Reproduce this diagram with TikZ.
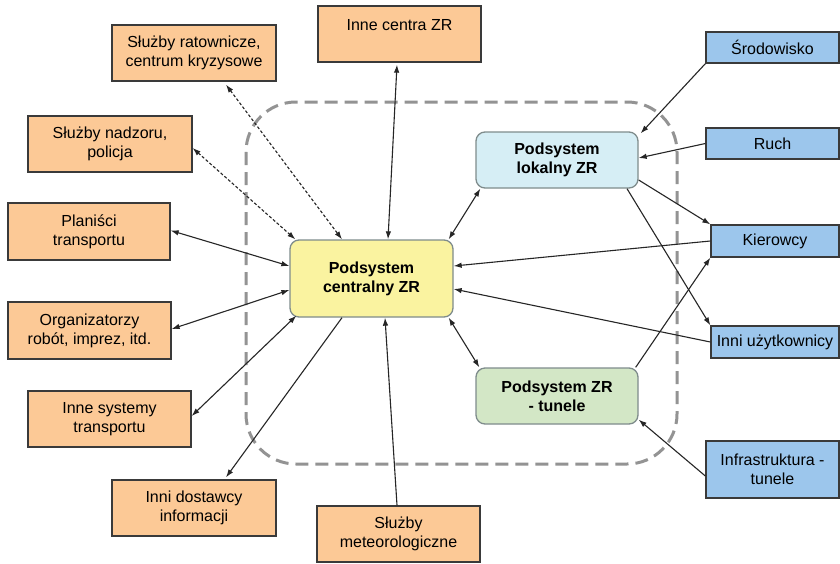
\documentclass[tikz,border=0pt]{standalone}
\usepackage{fontspec}
\setmainfont{Liberation Sans}
\usetikzlibrary{arrows.meta}
\definecolor{orangefill}{HTML}{FCC996}
\definecolor{bluefill}{HTML}{9CC6EC}
\definecolor{yellowfill}{HTML}{FAF3A0}
\definecolor{cyanfill}{HTML}{D6EEF5}
\definecolor{greenfill}{HTML}{D3E7C6}
\definecolor{boxline}{HTML}{3A3A3A}
\definecolor{roundline}{HTML}{7F8C8C}
\definecolor{dashgrey}{HTML}{939393}
\begin{document}
\begin{tikzpicture}[x=1pt,y=-1pt,
  every node/.style={font=\fontsize{16}{19}\selectfont, align=center, inner sep=1pt},
  extbox/.style={draw=boxline, line width=1.3pt, fill=orangefill, minimum width=163pt, minimum height=56pt},
  envbox/.style={draw=boxline, line width=1.3pt, fill=bluefill, minimum width=133pt, minimum height=31pt},
  subbox/.style={draw=roundline, line width=1.3pt, rounded corners=9pt, minimum width=162pt, minimum height=56pt, font=\fontsize{16}{19}\selectfont\bfseries},
  link/.style={line width=1.1pt, draw=black!85, {Latex[length=8pt,width=5.5pt]}-{Latex[length=8pt,width=5.5pt]}},
  onelink/.style={line width=1.1pt, draw=black!85, -{Latex[length=8pt,width=5.5pt]}},
  dlink/.style={link, dash pattern=on 3pt off 2pt}
]
\useasboundingbox (0,0) rectangle (840,563);
\fill[white] (0,0) rectangle (840,563);

% dashed system boundary
\draw[dashgrey, line width=3pt, dash pattern=on 13pt off 7pt, rounded corners=50pt] (246,102) rectangle (677,464);

% orange external boxes
\node[extbox, minimum width=164pt] (ratow) at (194,53) {Służby ratownicze,\\centrum kryzysowe};
\node[extbox] (centra) at (399.5,34) {Inne centra ZR\\\mbox{}};
\node[extbox, minimum width=164pt] (nadzor) at (110,144) {Służby nadzoru,\\policja};
\node[extbox, minimum width=162pt, minimum height=57pt] (planisci) at (89,231.5) {Planiści\\transportu};
\node[extbox, minimum height=57pt] (organiz) at (89.5,330.5) {Organizatorzy\\robót, imprez, itd.};
\node[extbox] (insys) at (109.5,419) {Inne systemy\\transportu};
\node[extbox, minimum width=164pt] (dostawcy) at (194,508) {Inni dostawcy\\informacji};
\node[extbox] (meteo) at (398.5,534) {Służby\\meteorologiczne};

% blue environment boxes
\node[envbox] (srod) at (772.5,47.5) {Środowisko};
\node[envbox] (ruch) at (772.5,143.5) {Ruch};
\node[envbox, minimum width=128pt, minimum height=32pt] (kier) at (775,241) {Kierowcy};
\node[envbox, minimum width=128pt, minimum height=32pt] (inni) at (775,342) {Inni użytkownicy};
\node[envbox, minimum height=57pt] (infra) at (772.5,469.5) {Infrastruktura -\\tunele};

% subsystems
\node[subbox, fill=yellowfill, minimum width=163pt, minimum height=77pt] (central) at (371.5,278.5) {Podsystem\\centralny ZR};
\node[subbox, fill=cyanfill] (lokal) at (557,160) {Podsystem\\lokalny ZR};
\node[subbox, fill=greenfill] (tunele) at (557,396) {Podsystem ZR\\- tunele};

% connectors
\draw[dlink] ([xshift=32pt,yshift=-3pt]ratow.south) -- ([xshift=-29.5pt]central.north);
\draw[dlink] ([yshift=-4pt]nadzor.east) -- ([xshift=6pt]central.north west);
\draw[link] ([xshift=-2.5pt,yshift=-2pt]centra.south) -- ([xshift=16.5pt]central.north);
\draw[link] ([yshift=1pt]planisci.east) -- ([yshift=12.5pt]central.west);
\draw[link] ([yshift=1.5pt]organiz.east) -- ([yshift=-11.5pt]central.west);
\draw[link] ([yshift=3pt]insys.east) -- ([xshift=7pt,yshift=2pt]central.south west);
\draw[onelink] ([xshift=-29.5pt]central.south) -- ([xshift=32pt,yshift=2pt]dostawcy.north);
\draw[onelink] ([xshift=-1.5pt]meteo.north) -- ([xshift=13.5pt]central.south);
\draw[link] ([xshift=-5pt]central.north east) -- ([xshift=5pt]lokal.south west);
\draw[link] ([xshift=-5pt]central.south east) -- ([xshift=4pt]tunele.north west);
\draw[onelink] (srod.south west) -- ([xshift=2pt,yshift=-2pt]lokal.north east);
\draw[onelink] (ruch.west) -- ([yshift=2pt]lokal.east);
\draw[onelink] ([yshift=-20pt]lokal.east) -- (kier.north west);
\draw[onelink] ([xshift=70pt]lokal.south) -- (inni.north west);
\draw[onelink] (kier.west) -- ([yshift=12.5pt]central.east);
\draw[onelink] (inni.west) -- ([yshift=-10.5pt]central.east);
\draw[onelink] ([xshift=-3pt]tunele.north east) -- (kier.south west);
\draw[onelink] ([yshift=-6.5pt]infra.west) -- ([yshift=5pt]tunele.south east);
\end{tikzpicture}
\end{document}
